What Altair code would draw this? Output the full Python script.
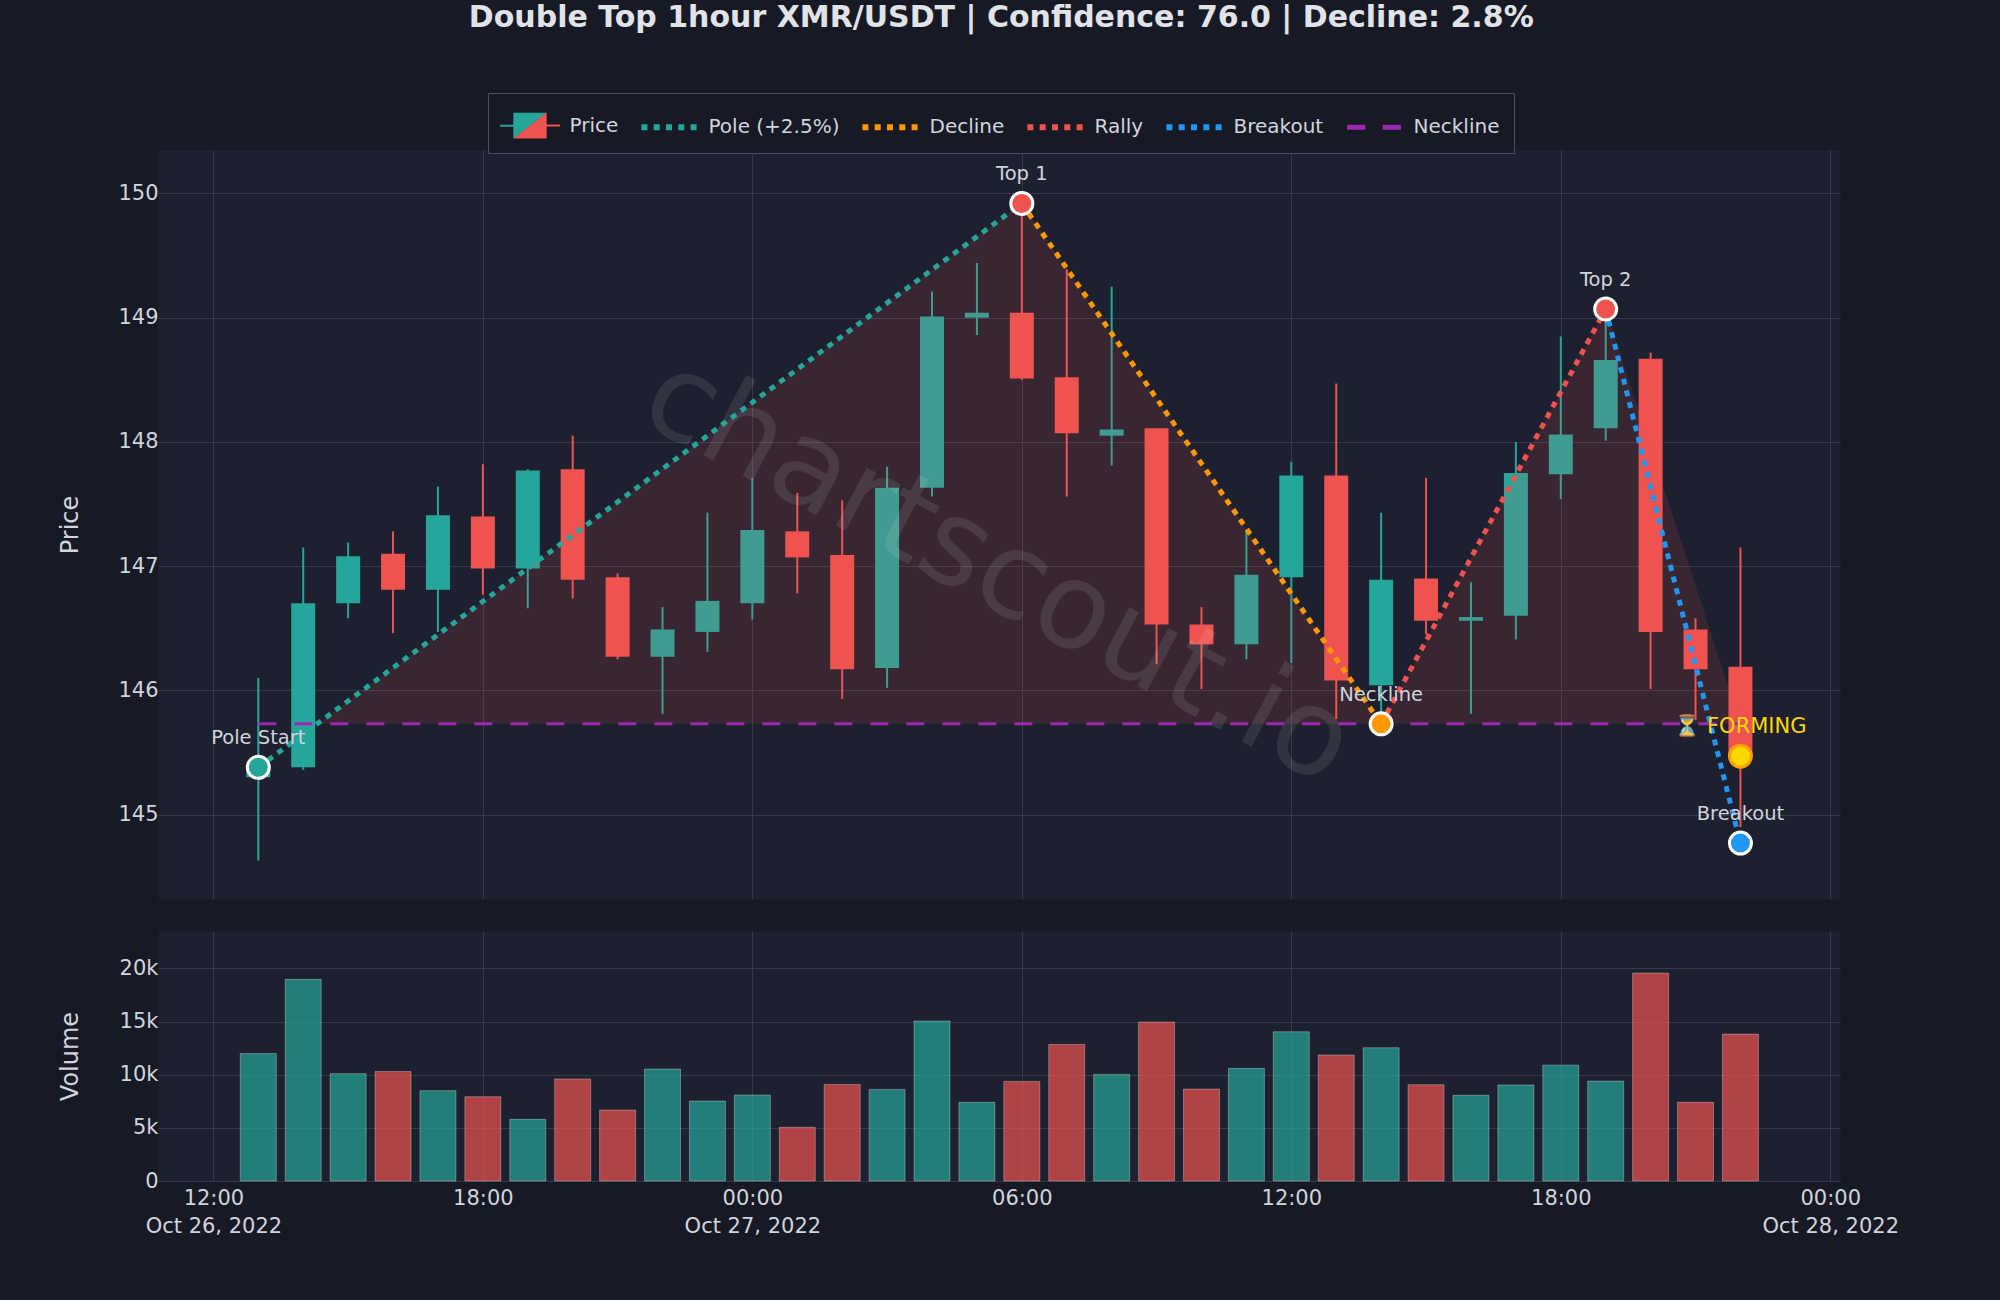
import altair as alt
import altair.utils.html as alt_html
import pandas as pd

# ---------------- data ----------------
TIMES = [
    "2022-10-26T13:00:00", "2022-10-26T14:00:00", "2022-10-26T15:00:00", "2022-10-26T16:00:00",
    "2022-10-26T17:00:00", "2022-10-26T18:00:00", "2022-10-26T19:00:00", "2022-10-26T20:00:00",
    "2022-10-26T21:00:00", "2022-10-26T22:00:00", "2022-10-26T23:00:00", "2022-10-27T00:00:00",
    "2022-10-27T01:00:00", "2022-10-27T02:00:00", "2022-10-27T03:00:00", "2022-10-27T04:00:00",
    "2022-10-27T05:00:00", "2022-10-27T06:00:00", "2022-10-27T07:00:00", "2022-10-27T08:00:00",
    "2022-10-27T09:00:00", "2022-10-27T10:00:00", "2022-10-27T11:00:00", "2022-10-27T12:00:00",
    "2022-10-27T13:00:00", "2022-10-27T14:00:00", "2022-10-27T15:00:00", "2022-10-27T16:00:00",
    "2022-10-27T17:00:00", "2022-10-27T18:00:00", "2022-10-27T19:00:00", "2022-10-27T20:00:00",
    "2022-10-27T21:00:00", "2022-10-27T22:00:00",
]
OPEN = [145.30, 145.38, 146.70, 147.10, 146.81, 147.40, 146.98, 147.78, 146.91, 146.27, 146.47, 146.70,
        147.28, 147.09, 146.18, 147.63, 149.00, 149.04, 148.52, 148.05, 148.11, 146.53, 146.37, 146.91,
        147.73, 146.04, 146.90, 146.56, 146.60, 147.74, 148.11, 148.67, 146.49, 146.19]
HIGH = [146.10, 147.15, 147.19, 147.28, 147.64, 147.82, 147.78, 148.05, 146.94, 146.67, 147.43, 147.71,
        147.59, 147.53, 147.80, 149.21, 149.44, 149.92, 149.39, 149.25, 148.11, 146.67, 147.28, 147.84,
        148.47, 147.43, 147.71, 146.87, 148.00, 148.85, 149.07, 148.72, 146.58, 147.15]
LOW = [144.63, 145.36, 146.58, 146.46, 146.47, 146.77, 146.66, 146.74, 146.25, 145.81, 146.31, 146.57,
       146.78, 145.93, 146.02, 147.56, 148.86, 148.50, 147.56, 147.81, 146.21, 146.01, 146.25, 146.22,
       145.77, 145.73, 146.45, 145.81, 146.41, 147.54, 148.01, 146.01, 145.76, 144.90]
CLOSE = [145.38, 146.70, 147.08, 146.81, 147.41, 146.98, 147.77, 146.89, 146.27, 146.49, 146.72, 147.29,
         147.07, 146.17, 147.63, 149.01, 149.04, 148.51, 148.07, 148.10, 146.53, 146.37, 146.93, 147.73,
         146.08, 146.89, 146.56, 146.59, 147.75, 148.06, 148.66, 146.47, 146.17, 145.47]
VOLUME = [12000, 18970, 10100, 10300, 8500, 7930, 5800, 9600, 6680, 10530, 7520, 8090, 5050, 9090, 8620,
          15050, 7400, 9370, 12850, 10030, 14950, 8650, 10600, 14040, 11850, 12540, 9060, 8060, 9030,
          10900, 9400, 19560, 7400, 13820]

PT_LABELS = ["Pole Start", "Top 1", "Neckline", "Top 2", "Breakout"]
PT_TIMES = ["2022-10-26T13:00:00", "2022-10-27T06:00:00", "2022-10-27T14:00:00",
            "2022-10-27T19:00:00", "2022-10-27T22:00:00"]
PT_PRICES = [145.38, 149.92, 145.73, 149.07, 144.77]
PT_COLORS = ["#26a69a", "#ef5350", "#ff9800", "#ef5350", "#2196f3"]

SEG_NAMES = ["Pole (+2.5%)", "Decline", "Rally", "Breakout"]
SEG_COLORS = ["#26a69a", "#ff9800", "#ef5350", "#2196f3"]

NECKLINE = 145.73
NECK_START = "2022-10-26T13:00:00"
NECK_END = "2022-10-27T22:00:00"
SHADE_END = "2022-10-27T22:00:00"

FORMING_TIME = "2022-10-27T22:00:00"
FORMING_PRICE = 145.47
FORMING_TEXT = "\u23f3 FORMING"

WATERMARK_TEXT = "chartscout.io"
WATERMARK_TIME = "2022-10-27T05:28:00"
WATERMARK_PRICE = 146.96

LEGEND_NAMES = ["Price", "Pole (+2.5%)", "Decline", "Rally", "Breakout", "Neckline"]
LEGEND_COLORS = ["#26a69a", "#26a69a", "#ff9800", "#ef5350", "#2196f3", "#9c27b0"]

TITLE = "Double Top 1hour XMR/USDT | Confidence: 76.0 | Decline: 2.8%"

X_DOMAIN = [alt.DateTime(year=2022, month=10, date=26, hours=10, minutes=46),
            alt.DateTime(year=2022, month=10, date=28, hours=0, minutes=13)]
X_TICKS = [alt.DateTime(year=2022, month=10, date=26, hours=12),
           alt.DateTime(year=2022, month=10, date=26, hours=18),
           alt.DateTime(year=2022, month=10, date=27, hours=0),
           alt.DateTime(year=2022, month=10, date=27, hours=6),
           alt.DateTime(year=2022, month=10, date=27, hours=12),
           alt.DateTime(year=2022, month=10, date=27, hours=18),
           alt.DateTime(year=2022, month=10, date=28, hours=0)]
PRICE_DOMAIN = [144.32, 150.35]
PRICE_TICKS = [145, 146, 147, 148, 149, 150]
VOL_DOMAIN = [0, 23520]
VOL_TICKS = [0, 5000, 10000, 15000, 20000]

# ---------------- style ----------------
TEAL = "#26a69a"
RED = "#ef5350"
PURPLE = "#9c27b0"
PAGE_BG = "#171a25"
PLOT_BG = "#1d202e"
GRID = "#363a48"
TXT = "#d1d4dc"
FONT = "DejaVu Sans"


def rect(x0, x1, y0, y1):
    return f"M{x0:.3f},{y0:.3f}H{x1:.3f}V{y1:.3f}H{x0:.3f}Z"


# legend keys (unit square is -1..1): candle split diagonally teal / red, dotted and dashed strokes
CANDLE_UP_PATH = "M-1.62,-0.055H-0.9V-0.7H0.9L-0.9,0.7V0.055H-1.62Z"
CANDLE_DOWN_PATH = "M0.9,-0.7V-0.055H1.62V0.055H0.9V0.7H-0.9Z"
DOT_PATH = " ".join(rect(c - 0.162, c + 0.162, -0.162, 0.162) for c in (-1.33, -0.665, 0, 0.665, 1.33))
DASH_PATH = rect(-1.457, -0.467, -0.135, 0.135) + " " + rect(0.467, 1.457, -0.135, 0.135)
LEGEND_SHAPES = [CANDLE_UP_PATH, DOT_PATH, DOT_PATH, DOT_PATH, DOT_PATH, DASH_PATH]

# ---------------- tables ----------------
df = pd.DataFrame({"t": TIMES, "o": OPEN, "h": HIGH, "l": LOW, "c": CLOSE, "v": VOLUME})
df["col"] = [TEAL if c >= o else RED for o, c in zip(OPEN, CLOSE)]

seg_rows = []
for i, (name, col) in enumerate(zip(SEG_NAMES, SEG_COLORS)):
    for j in (i, i + 1):
        seg_rows.append({"series": name, "col": col, "t": PT_TIMES[j], "p": PT_PRICES[j]})
seg_df = pd.DataFrame(seg_rows)

pts_df = pd.DataFrame({"label": PT_LABELS, "t": PT_TIMES, "p": PT_PRICES, "col": PT_COLORS})

t0, t1 = pd.Timestamp(PT_TIMES[0]), pd.Timestamp(PT_TIMES[1])
frac = (NECKLINE - PT_PRICES[0]) / (PT_PRICES[1] - PT_PRICES[0])
t_cross = t0 + (t1 - t0) * frac
shade_df = pd.DataFrame({
    "t": [t_cross.strftime("%Y-%m-%dT%H:%M:%S"), PT_TIMES[1], PT_TIMES[2], PT_TIMES[3], SHADE_END],
    "p": [NECKLINE, PT_PRICES[1], NECKLINE, PT_PRICES[3], NECKLINE],
})
shade_df["base"] = NECKLINE

neck_df = pd.DataFrame({"t": [NECK_START], "t2": [NECK_END], "p": [NECKLINE]})
form_df = pd.DataFrame({"t": [FORMING_TIME], "p": [FORMING_PRICE], "label": [FORMING_TEXT]})
wm_df = pd.DataFrame({"t": [WATERMARK_TIME], "p": [WATERMARK_PRICE], "label": [WATERMARK_TEXT]})
legend_data = alt.Data(values=[{"series": s, "t": None, "p": None} for s in LEGEND_NAMES])
legend_data2 = alt.Data(values=[{"series2": LEGEND_NAMES[0], "t": None, "p": None}])

# ---------------- scales / axes ----------------
price_x_axis = alt.Axis(values=X_TICKS, labels=False, ticks=False, domain=False, title=None, grid=True)
vol_x_axis = alt.Axis(
    values=X_TICKS, ticks=False, domain=False, title=None, grid=True,
    labelExpr="hours(datum.value) == 0 || datum.index == 0 ? "
              "[timeFormat(datum.value, '%H:%M'), timeFormat(datum.value, '%b %d, %Y')] : "
              "timeFormat(datum.value, '%H:%M')",
    labelFontSize=21, labelColor=TXT, labelPadding=6, labelLineHeight=28,
    labelFlush=False, labelOverlap=False, labelBaseline="top",
)
common_y = dict(grid=True, domain=False, ticks=False, labelFontSize=21, labelColor=TXT,
                labelPadding=0, titleFontSize=24, titleColor=TXT, titleFontWeight="normal",
                titlePadding=34, minExtent=42, maxExtent=42)
price_y_axis = alt.Axis(values=PRICE_TICKS, format="d", title="Price", **common_y)
vol_y_axis = alt.Axis(values=VOL_TICKS, title="Volume",
                      labelExpr="datum.value == 0 ? '0' : format(datum.value / 1000, 'd') + 'k'",
                      **common_y)

# x scale and axes are declared once (first layer); other layers reuse them
PX_FIRST = alt.X("t:T", scale=alt.Scale(domain=X_DOMAIN, nice=False, padding=0), axis=price_x_axis)
PX = alt.X("t:T")
PY = alt.Y("p:Q")

# ---------------- price panel ----------------
base = alt.Chart(df)
wicks = base.mark_rule(strokeWidth=2).encode(
    x=PX_FIRST,
    y=alt.Y("l:Q", scale=alt.Scale(domain=PRICE_DOMAIN, nice=False, zero=False, padding=0),
            axis=price_y_axis),
    y2="h:Q",
    color=alt.Color("col:N", scale=None))
bodies = base.mark_bar(size=24).encode(
    x=PX, y=alt.Y("o:Q"), y2="c:Q", color=alt.Color("col:N", scale=None))

shade = alt.Chart(shade_df).mark_area(color=RED, opacity=0.13).encode(x=PX, y=PY, y2="base:Q")

watermark = alt.Chart(wm_df).mark_text(
    font=FONT, fontSize=120, angle=28, color="#ffffff", opacity=0.09, align="center", baseline="middle"
).encode(x=PX, y=PY, text="label:N")

neck = alt.Chart(neck_df).mark_rule(color=PURPLE, strokeWidth=3, strokeDash=[18, 18]).encode(
    x=PX, x2="t2:T", y=PY)

segs = alt.Chart(seg_df).mark_line(strokeWidth=5, strokeDash=[6, 6], strokeCap="butt").encode(
    x=PX, y=PY, detail="series:N", color=alt.Color("col:N", scale=None))

markers = alt.Chart(pts_df).mark_point(filled=True, shape="circle", size=484, opacity=1,
                                        stroke="white", strokeWidth=3).encode(
    x=PX, y=PY, fill=alt.Fill("col:N", scale=None))
marker_text = alt.Chart(pts_df).mark_text(font=FONT, fontSize=19.5, color=TXT, dy=-29).encode(
    x=PX, y=PY, text="label:N")

forming = alt.Chart(form_df).mark_point(filled=True, shape="circle", size=484, opacity=1,
                                         fill="#ffd700", stroke="#ffa000", strokeWidth=3).encode(x=PX, y=PY)
forming_text = alt.Chart(form_df).mark_text(font=FONT, fontSize=21, color="#ffd700", dy=-29).encode(
    x=PX, y=PY, text="label:N")

legend_common = dict(
    orient="none", legendX=330, legendY=-57, direction="horizontal", title=None,
    padding=14, cornerRadius=0, labelFont=FONT, labelFontSize=20, labelOffset=21,
    symbolSize=1369, symbolOffset=9.5, columnPadding=22, symbolStrokeWidth=0,
)
legend = alt.Legend(fillColor=PAGE_BG, strokeColor="#4a4e5b", labelColor=TXT, zindex=1, **legend_common)
legend_red = alt.Legend(fillColor="transparent", strokeColor="transparent", labelColor="transparent",
                        symbolType=CANDLE_DOWN_PATH, zindex=2, **legend_common)

legend_keys = alt.Chart(legend_data).mark_point(filled=True, opacity=1, size=1369).encode(
    x=PX, y=PY,
    color=alt.Color("series:N", scale=alt.Scale(domain=LEGEND_NAMES, range=LEGEND_COLORS), legend=legend),
    shape=alt.Shape("series:N", scale=alt.Scale(domain=LEGEND_NAMES, range=LEGEND_SHAPES), legend=legend),
)
legend_keys_red = alt.Chart(legend_data2).mark_point(filled=True, opacity=1, size=1369).encode(
    x=PX, y=PY,
    fill=alt.Fill("series2:N", scale=alt.Scale(domain=LEGEND_NAMES[:1], range=[RED]), legend=legend_red),
)

price = alt.layer(
    wicks, bodies, shade, watermark, neck, segs, markers, marker_text, forming, forming_text,
    legend_keys, legend_keys_red
).properties(width=1682, height=749)

# ---------------- volume panel ----------------
volume = alt.Chart(df).mark_bar(size=36, fillOpacity=0.7, stroke="#ffffff", strokeOpacity=0.3,
                                strokeWidth=1).encode(
    x=alt.X("t:T", scale=alt.Scale(domain=X_DOMAIN, nice=False, padding=0), axis=vol_x_axis),
    y=alt.Y("v:Q", scale=alt.Scale(domain=VOL_DOMAIN, nice=False), axis=vol_y_axis),
    color=alt.Color("col:N", scale=None),
).properties(width=1682, height=250)

chart = alt.vconcat(price, volume, spacing=30).resolve_scale(
    color="independent", shape="independent", fill="independent"
).resolve_legend(color="independent", shape="independent", fill="independent").properties(
    title=alt.Title(TITLE, font=FONT, fontSize=30, fontWeight="bold", color="#e1e3e8",
                    anchor="middle", baseline="alphabetic", offset=35, dx=23),
    background=PAGE_BG,
    padding={"left": 57, "top": 3, "right": 10, "bottom": 10},
).configure(font=FONT).configure_view(fill=PLOT_BG, stroke="transparent").configure_axis(
    gridColor=GRID, gridWidth=1, labelFont=FONT, titleFont=FONT
)

# the reference is dark from edge to edge: give the page the chart's background and no margin
_standard = alt_html.TEMPLATES["standard"]


class _DarkPage:
    def render(self, *args, **kwargs):
        html = _standard.render(*args, **kwargs)
        style = "<style>html,body{background:%s;margin:0;}</style>" % PAGE_BG
        return html.replace("<head>", "<head>" + style, 1)


alt_html.TEMPLATES["standard"] = _DarkPage()

chart.save("out.html", embed_options={"renderer": "svg", "actions": False})
